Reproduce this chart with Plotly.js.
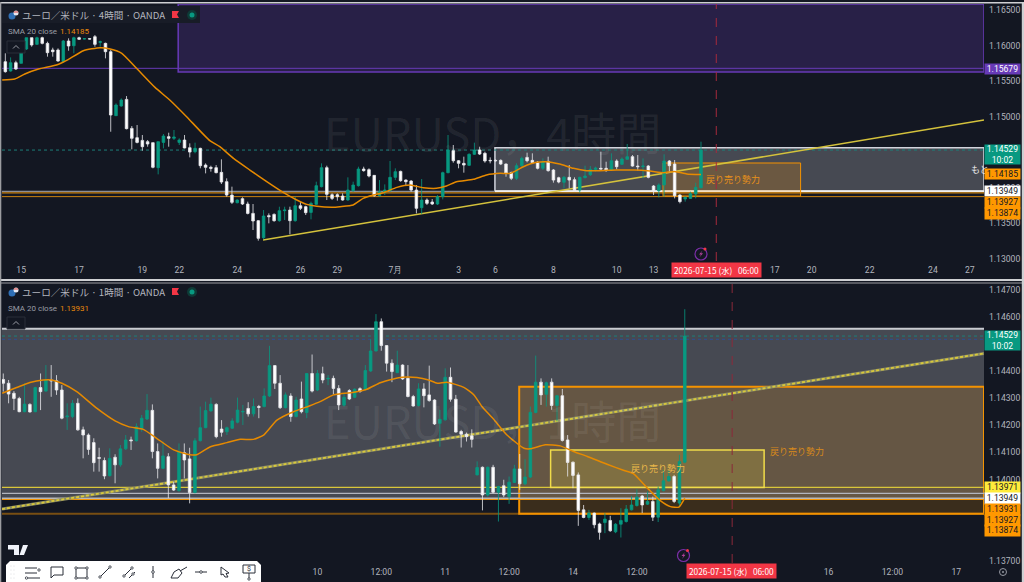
<!DOCTYPE html>
<html><head><meta charset="utf-8">
<script src="https://cdn.plot.ly/plotly-3.0.1.min.js"></script>
<style>html,body{margin:0;padding:0;background:#131722;overflow:hidden}#c{width:1024px;height:582px}</style>
</head><body><div id="c"></div>
<script>
// 4-hour bars: open, high, low, close
const bars4h = [
[1.15772,1.15890,1.15618,1.15632],[1.15641,1.15833,1.15632,1.15758],[1.15758,1.15786,1.15655,1.15669],[1.15749,1.16030,1.15749,1.15899],
[1.15951,1.16110,1.15937,1.16110],[1.16110,1.16110,1.15983,1.16007],[1.16016,1.16124,1.16007,1.16110],[1.16110,1.16124,1.16016,1.16030],
[1.16030,1.16054,1.15843,1.15899],[1.15937,1.15969,1.15843,1.15913],[1.15937,1.15960,1.15772,1.15782],[1.15772,1.16077,1.15758,1.16063],
[1.16063,1.16101,1.15927,1.15993],[1.15997,1.16124,1.15890,1.16110],[1.16110,1.16124,1.16077,1.16087],[1.16091,1.16101,1.16087,1.16096],
[1.16096,1.16101,1.16087,1.16091],[1.16124,1.16148,1.15983,1.16016],[1.16044,1.16068,1.15983,1.16054],[1.16030,1.16040,1.15819,1.15913],
[1.15913,1.15937,1.14787,1.15022],[1.15013,1.15186,1.15008,1.15163],[1.15149,1.15256,1.15139,1.15233],[1.15242,1.15289,1.14820,1.14830],
[1.14834,1.14867,1.14539,1.14694],[1.14703,1.14881,1.14623,1.14637],[1.14665,1.14741,1.14520,1.14576],[1.14647,1.14670,1.14576,1.14614],
[1.14633,1.14633,1.14272,1.14286],[1.14281,1.14647,1.14187,1.14647],[1.14637,1.14755,1.14553,1.14726],[1.14717,1.14773,1.14576,1.14694],
[1.14694,1.14811,1.14670,1.14712],[1.14637,1.14694,1.14600,1.14670],[1.14670,1.14741,1.14553,1.14558],[1.14562,1.14623,1.14426,1.14501],
[1.14506,1.14633,1.14483,1.14553],[1.14553,1.14562,1.14272,1.14309],[1.14318,1.14342,1.14201,1.14286],[1.14286,1.14309,1.14225,1.14272],
[1.14281,1.14318,1.14201,1.14211],[1.14215,1.14398,1.14051,1.14079],[1.14084,1.14131,1.13873,1.13896],[1.13896,1.14014,1.13770,1.13793],
[1.13788,1.13835,1.13779,1.13826],[1.13845,1.13864,1.13756,1.13770],[1.13770,1.13803,1.13624,1.13638],[1.13638,1.13770,1.13404,1.13531],
[1.13535,1.13545,1.13254,1.13287],[1.13296,1.13685,1.13272,1.13601],[1.13606,1.13638,1.13498,1.13592],[1.13624,1.13638,1.13521,1.13535],
[1.13535,1.13732,1.13521,1.13676],[1.13676,1.13732,1.13545,1.13685],[1.13685,1.13732,1.13343,1.13535],[1.13535,1.13873,1.13521,1.13746],
[1.13746,1.13803,1.13685,1.13709],[1.13732,1.13746,1.13615,1.13648],[1.13652,1.13803,1.13554,1.13779],[1.13765,1.14084,1.13756,1.14028],
[1.14014,1.14342,1.14004,1.14281],[1.14281,1.14309,1.13826,1.13906],[1.13901,1.13920,1.13826,1.13849],[1.13901,1.13920,1.13817,1.13873],
[1.13882,1.13920,1.13817,1.13826],[1.13826,1.14145,1.13817,1.13967],[1.13957,1.14084,1.13943,1.14037],[1.14028,1.14295,1.14014,1.14262],
[1.14262,1.14295,1.14225,1.14239],[1.14253,1.14272,1.14145,1.14164],[1.14173,1.14178,1.13873,1.13887],[1.13887,1.14107,1.13873,1.13943],
[1.13934,1.14046,1.13896,1.13967],[1.13957,1.14375,1.13943,1.14145],[1.14145,1.14272,1.14107,1.14225],[1.14229,1.14239,1.14084,1.14098],
[1.14107,1.14117,1.14037,1.14084],[1.14093,1.14107,1.13943,1.13967],[1.13967,1.14037,1.13638,1.13709],[1.13718,1.14121,1.13629,1.13826],
[1.13826,1.13849,1.13756,1.13779],[1.13798,1.13840,1.13756,1.13770],[1.13770,1.13896,1.13756,1.13873],[1.13873,1.14225,1.13835,1.14211],
[1.14211,1.14741,1.14201,1.14530],[1.14520,1.14600,1.14351,1.14379],[1.14379,1.14389,1.14272,1.14342],[1.14342,1.14436,1.14211,1.14318],
[1.14314,1.14483,1.14304,1.14469],[1.14469,1.14633,1.14459,1.14530],[1.14530,1.14576,1.14459,1.14473],[1.14483,1.14506,1.14351,1.14375],
[1.14384,1.14426,1.14342,1.14379],[1.14384,1.14398,1.14365,1.14379],[1.14384,1.14398,1.14318,1.14332],[1.14332,1.14342,1.14154,1.14201],
[1.14211,1.14225,1.14107,1.14131],[1.14131,1.14342,1.14107,1.14309],[1.14309,1.14436,1.14295,1.14412],[1.14426,1.14492,1.14356,1.14379],
[1.14384,1.14483,1.14342,1.14351],[1.14356,1.14375,1.14257,1.14272],[1.14272,1.14412,1.14248,1.14365],[1.14370,1.14436,1.14225,1.14239],
[1.14248,1.14262,1.14070,1.14107],[1.14140,1.14154,1.14061,1.14079],[1.14075,1.14164,1.13990,1.14145],[1.14145,1.14318,1.13990,1.14107],
[1.14112,1.14145,1.13943,1.13957],[1.13967,1.14154,1.13929,1.14145],[1.14140,1.14309,1.14131,1.14164],[1.14182,1.14304,1.14164,1.14257],
[1.14257,1.14295,1.14225,1.14276],[1.14272,1.14506,1.14257,1.14262],[1.14272,1.14365,1.14225,1.14239],[1.14248,1.14483,1.14239,1.14379],
[1.14375,1.14398,1.14257,1.14295],[1.14328,1.14426,1.14318,1.14403],[1.14398,1.14614,1.14398,1.14436],[1.14436,1.14459,1.14295,1.14304],
[1.14304,1.14459,1.14239,1.14295],[1.14295,1.14412,1.14131,1.14304],[1.14304,1.14318,1.14131,1.14145],[1.14023,1.14037,1.13896,1.13948],
[1.13957,1.14061,1.13863,1.14037],[1.14037,1.14469,1.13873,1.14375],[1.14375,1.14389,1.14211,1.14309],[1.14332,1.14389,1.13849,1.13887],
[1.13896,1.13906,1.13779,1.13803],[1.13840,1.13873,1.13803,1.13864],[1.13849,1.13943,1.13840,1.13915],[1.13910,1.14070,1.13849,1.14004],
[1.13999,1.14647,1.13990,1.14529]
];
// 1-hour bars: open, high, low, close
const bars1h = [
[1.14369,1.14391,1.14324,1.14355],[1.14355,1.14367,1.14281,1.14315],[1.14318,1.14326,1.14256,1.14299],[1.14299,1.14305,1.14248,1.14250],
[1.14250,1.14355,1.14248,1.14278],[1.14277,1.14281,1.14247,1.14249],[1.14250,1.14342,1.14248,1.14339],[1.14339,1.14391,1.14256,1.14324],
[1.14326,1.14422,1.14324,1.14367],[1.14367,1.14422,1.14305,1.14364],[1.14364,1.14385,1.14312,1.14330],[1.14330,1.14348,1.14222,1.14226],
[1.14231,1.14281,1.14183,1.14234],[1.14232,1.14293,1.14226,1.14281],[1.14281,1.14299,1.14180,1.14183],[1.14183,1.14195,1.14078,1.14164],
[1.14164,1.14170,1.14091,1.14111],[1.14136,1.14152,1.14029,1.14062],[1.14081,1.14117,1.14029,1.14078],[1.14070,1.14081,1.14001,1.14013],
[1.14014,1.14115,1.14011,1.14078],[1.14082,1.14093,1.13986,1.14054],[1.14054,1.14127,1.14047,1.14113],[1.14113,1.14164,1.14109,1.14146],
[1.14146,1.14158,1.14109,1.14143],[1.14143,1.14207,1.14140,1.14195],[1.14189,1.14238,1.14176,1.14226],[1.14223,1.14315,1.14219,1.14255],
[1.14255,1.14277,1.14078,1.14103],[1.14103,1.14133,1.14004,1.14041],[1.14041,1.14140,1.14038,1.14087],[1.14084,1.14097,1.13931,1.13980],
[1.13980,1.13992,1.13958,1.13961],[1.13959,1.14133,1.13955,1.14103],[1.14099,1.14133,1.14004,1.14072],[1.14076,1.14117,1.13912,1.13952],
[1.13952,1.14152,1.13949,1.14143],[1.14143,1.14269,1.14140,1.14191],[1.14191,1.14287,1.14189,1.14254],[1.14253,1.14302,1.14250,1.14278],
[1.14277,1.14281,1.14152,1.14158],[1.14186,1.14219,1.14158,1.14174],[1.14176,1.14195,1.14164,1.14191],[1.14189,1.14226,1.14186,1.14216],
[1.14211,1.14302,1.14207,1.14256],[1.14249,1.14275,1.14201,1.14251],[1.14262,1.14285,1.14232,1.14242],[1.14242,1.14299,1.14232,1.14269],
[1.14269,1.14275,1.14226,1.14266],[1.14269,1.14336,1.14266,1.14308],[1.14308,1.14493,1.14304,1.14420],[1.14420,1.14422,1.14334,1.14355],
[1.14355,1.14385,1.14260,1.14265],[1.14265,1.14321,1.14262,1.14312],[1.14308,1.14318,1.14213,1.14232],[1.14232,1.14305,1.14229,1.14293],
[1.14297,1.14361,1.14244,1.14250],[1.14247,1.14391,1.14226,1.14391],[1.14391,1.14461,1.14321,1.14326],[1.14330,1.14404,1.14326,1.14391],
[1.14390,1.14416,1.14355,1.14367],[1.14371,1.14385,1.14348,1.14373],[1.14373,1.14383,1.14314,1.14336],[1.14336,1.14348,1.14256,1.14275],
[1.14274,1.14318,1.14269,1.14303],[1.14328,1.14333,1.14293,1.14297],[1.14303,1.14336,1.14300,1.14333],[1.14335,1.14340,1.14320,1.14325],
[1.14333,1.14422,1.14328,1.14402],[1.14400,1.14517,1.14397,1.14474],[1.14474,1.14610,1.14472,1.14582],[1.14582,1.14594,1.14475,1.14494],
[1.14494,1.14496,1.14398,1.14429],[1.14429,1.14443,1.14359,1.14398],[1.14394,1.14475,1.14392,1.14422],[1.14422,1.14425,1.14367,1.14371],
[1.14373,1.14422,1.14303,1.14306],[1.14306,1.14312,1.14269,1.14271],[1.14273,1.14355,1.14269,1.14334],[1.14334,1.14355,1.14266,1.14309],
[1.14312,1.14420,1.14287,1.14291],[1.14293,1.14296,1.14201,1.14205],[1.14207,1.14257,1.14121,1.14222],[1.14220,1.14410,1.14217,1.14377],
[1.14377,1.14413,1.14287,1.14296],[1.14296,1.14312,1.14173,1.14175],[1.14177,1.14183,1.14118,1.14167],[1.14167,1.14173,1.14140,1.14158],
[1.14161,1.14185,1.14118,1.14148],[1.14017,1.14067,1.14015,1.14044],[1.14045,1.14048,1.13886,1.13943],[1.13943,1.14048,1.13937,1.14045],
[1.14045,1.14054,1.13949,1.13953],[1.13953,1.13977,1.13845,1.13974],[1.13977,1.13999,1.13935,1.13943],[1.13937,1.14011,1.13910,1.13990],
[1.13989,1.14054,1.13987,1.14039],[1.14039,1.14094,1.13962,1.13984],[1.13984,1.14075,1.13979,1.14009],[1.14009,1.14269,1.14005,1.14248],
[1.14247,1.14457,1.14244,1.14359],[1.14359,1.14373,1.14275,1.14312],[1.14314,1.14361,1.14269,1.14357],[1.14359,1.14373,1.14257,1.14273],
[1.14273,1.14312,1.14214,1.14309],[1.14309,1.14334,1.14140,1.14144],[1.14146,1.14164,1.14011,1.14063],[1.14064,1.14066,1.13968,1.14015],
[1.14017,1.14026,1.13829,1.13886],[1.13888,1.13906,1.13857,1.13860],[1.13860,1.13888,1.13851,1.13876],[1.13876,1.13878,1.13820,1.13833],
[1.13836,1.13841,1.13778,1.13805],[1.13841,1.13876,1.13802,1.13854],[1.13849,1.13866,1.13807,1.13811],[1.13807,1.13839,1.13802,1.13835],
[1.13835,1.13894,1.13786,1.13849],[1.13845,1.13906,1.13841,1.13891],[1.13888,1.13939,1.13886,1.13906],[1.13904,1.13964,1.13900,1.13935],
[1.13939,1.13943,1.13876,1.13906],[1.13909,1.13956,1.13906,1.13919],[1.13919,1.13937,1.13847,1.13861],[1.13861,1.13974,1.13843,1.13962],
[1.13959,1.14035,1.13956,1.13995],[1.13995,1.14033,1.13992,1.14011],[1.14011,1.14017,1.13913,1.13919],[1.13913,1.14091,1.13898,1.14066],
[1.14064,1.14628,1.14060,1.14529]
];
const smaIdx4h = [-0.6,1.8,3.7,6.3,9.7,12,14.8,18,19.9,22.1,24.9,28.4,31.2,34.4,38.8,40.7,43.3,46.4,49.6,52.8,55.3,57.2,59.1,62.2,63.5,66,67.9,69.8,71.7,74.3,76.8,79.3,81.8,83.7,85.6,88.8,91.3,93.9,95.8,98.3,100.8,102.7,105.2,107.8,110.3,112.8,116,119.2,122.3,124.9,127,129.3,132];
const smaVal4h = [1.15514,1.15528,1.15599,1.15669,1.15725,1.15805,1.15927,1.15969,1.15951,1.15890,1.15679,1.15411,1.15233,1.14998,1.14661,1.14576,1.14412,1.14248,1.14084,1.13929,1.13826,1.13765,1.13737,1.13723,1.13732,1.13756,1.13849,1.13896,1.13929,1.14004,1.14037,1.13999,1.13990,1.14023,1.14084,1.14117,1.14178,1.14201,1.14201,1.14295,1.14356,1.14365,1.14332,1.14272,1.14239,1.14239,1.14248,1.14248,1.14234,1.14211,1.14229,1.14192,1.14185];
const smaIdx1h = [-0.2,2.5,5,7.5,9.1,11,13.8,17.6,21,23.5,26.3,28.8,32,35.1,36.3,38.9,42,44.5,47,48.9,51.4,54.5,57.6,59.5,62,63.3,65.8,68.3,70.8,73.3,74.9,77.7,79.9,81.5,83.3,86.5,88.4,89.9,92.1,94.6,97.8,99,101.8,104.6,107.1,109.7,113.4,116.6,118.4,121,123.4,125.3,126.9,128];
const smaVal1h = [1.14318,1.14339,1.14358,1.14367,1.14367,1.14355,1.14324,1.14262,1.14216,1.14195,1.14185,1.14152,1.14109,1.14091,1.14091,1.14121,1.14136,1.14148,1.14148,1.14164,1.14219,1.14250,1.14272,1.14287,1.14312,1.14316,1.14322,1.14333,1.14357,1.14371,1.14377,1.14376,1.14367,1.14355,1.14359,1.14340,1.14312,1.14269,1.14222,1.14164,1.14115,1.14113,1.14128,1.14124,1.14103,1.14085,1.14056,1.14033,1.14021,1.13968,1.13922,1.13900,1.13898,1.13931];

const tickPrices4h = [1.165,1.16,1.155,1.15,1.14,1.135,1.13];
const tickPrices1h = [1.147,1.146,1.144,1.143,1.142,1.141,1.14,1.137];
const dayTicks4h = [3,14,26,33,44,56,63,74,86,93,104,116,123,146,153,164,176,183];
const dayLabels4h = ['15','17','19','22','24','26','29','7月','3','6','8','10','13','17','20','22','24','27'];
const dayTicks1h = [59,71,83,95,107,119,155,167,179];
const dayLabels1h = ['10','12:00','11','12:00','14','12:00','16','12:00','17'];
const lastClose = 1.14529, level1 = 1.13949, level2 = 1.13927, level3 = 1.13874, level4 = 1.13971, level5 = 1.13931, purpleLevel = 1.15679;

const BG='#131722', GREEN='#089981', ORANGE='#f59300', PURPLE='#673ab7', YEL='#ffeb3b', GRAY='#b2b5be';
const FW='Roboto, "Liberation Sans", sans-serif', FJ='"Noto Sans CJK JP", sans-serif';
const PL=2, PR=984, H=582, PW=PR-PL;
const fx=x=>(x-PL)/PW, fy=y=>1-y/H;
const shapes=[], notes=[];

// helpers in page pixels, for chrome only
function pxRect(x0,y0,x1,y1,fill,lc,lw){shapes.push({type:'rect',xref:'paper',yref:'paper',x0:fx(x0),x1:fx(x1),y0:fy(y1),y1:fy(y0),fillcolor:fill||'rgba(0,0,0,0)',line:{color:lc||'rgba(0,0,0,0)',width:lw||0},layer:'above'});}
function pxPath(pts,color,w,fill,close){const d=pts.map((p,i)=>(i?'L':'M')+fx(p[0])+','+fy(p[1])).join(' ')+(close?' Z':'');shapes.push({type:'path',xref:'paper',yref:'paper',path:d,line:{color:color||'rgba(0,0,0,0)',width:w==null?1:w},fillcolor:fill||'rgba(0,0,0,0)',layer:'above'});}
function pxCirc(x,y,r,fill,lc,lw){shapes.push({type:'circle',xref:'paper',yref:'paper',x0:fx(x-r),x1:fx(x+r),y0:fy(y+r),y1:fy(y-r),fillcolor:fill||'rgba(0,0,0,0)',line:{color:lc||'rgba(0,0,0,0)',width:lw||0},layer:'above'});}
function txt(t,x,y,size,color,o){notes.push(Object.assign({text:t,xref:'paper',yref:'paper',x:fx(x),y:fy(y),showarrow:false,xanchor:'left',yanchor:'middle',font:{size:size,color:color,family:FW},borderpad:0},o||{}));}
function tag(t,y,h,bg,color){txt(t,984,y,8.6,color,{bgcolor:bg,width:35,height:h,align:'center',font:{size:8.6,color:color,family:FW}});}

// data-space shapes
function zone(xa,ya,x0,x1,y0,y1,fill,lc,lw,layer){shapes.push({type:'rect',xref:xa,yref:ya,x0:x0,x1:x1,y0:y0,y1:y1,fillcolor:fill,line:{color:lc,width:lw},layer:layer||'below'});}
function level(xa,ya,x0,x1,y,c,w,dash){shapes.push({type:'line',xref:xa,yref:ya,x0:x0,x1:x1,y0:y,y1:y,line:{color:c,width:w,dash:dash||'solid'},layer:'below'});}
function seg(xa,ya,x0,x1,y0,y1,c,w,dash){shapes.push({type:'line',xref:xa,yref:ya,x0:x0,x1:x1,y0:y0,y1:y1,line:{color:c,width:w,dash:dash||'solid'},layer:'below'});}

const XR1=[-0.632,185.7], YR1=[1.12968,1.16584], XR2=[-0.24,184.2], YR2=[1.13692,1.14721];
// --- 4h panel
zone('x','y',32.8,XR1[1],1.15627,YR1[1],'rgba(103,58,183,0.25)',PURPLE,1.5);
level('x','y',XR1[0],XR1[1],purpleLevel,PURPLE,1);
zone('x','y',92.9,XR1[1],level1,1.14562,'rgba(255,255,255,0.22)','#d1d4dc',1.5);
level('x','y',XR1[0],XR1[1],lastClose,'#1d7f78',1,'dot');
level('x','y',XR1[0],XR1[1],level1,'#8b8e97',1.2);
level('x','y',92.9,XR1[1],level1,'#f0f0f0',2);
level('x','y',XR1[0],XR1[1],level2,'#c9820f',1.2);
level('x','y',XR1[0],XR1[1],level3,'#c9820f',1);
zone('x','y',124.8,150.9,1.13882,1.14347,'rgba(255,152,0,0.2)',ORANGE,1);
seg('x','y',48.9,XR1[1],1.13263,1.14952,'#d4c23c',1.5);
seg('x','y',134.9,134.9,YR1[0],YR1[1],'#a62a3c',1,'dash');
// --- 1h panel
zone('x2','y2',XR2[0],XR2[1],level5,1.14556,'rgba(255,255,255,0.22)','rgba(0,0,0,0)',0);
level('x2','y2',XR2[0],XR2[1],1.14556,'#c9cbd1',2);
level('x2','y2',XR2[0],XR2[1],lastClose,'#1d7f78',1,'dot');
level('x2','y2',XR2[0],XR2[1],1.14517,'#2f4f90',1,'dot');
zone('x2','y2',96.9,XR2[1],level3,1.14342,'rgba(255,152,0,0.17)',ORANGE,2);
level('x2','y2',XR2[0],XR2[1],level3,'rgba(245,147,0,0.45)',2);
level('x2','y2',XR2[0],XR2[1],level2,ORANGE,1.5);
level('x2','y2',XR2[0],XR2[1],level5,'#b8b8b8',1.5);
level('x2','y2',XR2[0],XR2[1],level1,'#b2b5be',1.2);
level('x2','y2',XR2[0],XR2[1],level4,'#d9c63a',1.2);
zone('x2','y2',102.8,142.9,1.13970,1.14109,'rgba(255,235,59,0.17)','#f0dc4a',1.5);
seg('x2','y2',XR2[0],XR2[1],1.13891,1.14465,'#8a8a62',3);
seg('x2','y2',XR2[0],XR2[1],1.13891,1.14465,'#d9c93a',1.8,'3px,2px');
seg('x2','y2',136.9,136.9,YR2[0],YR2[1],'#8a2a3a',1,'dash');

// watermark
txt('EURUSD，4時間',323,132,45,'rgba(255,255,255,0.07)',{font:{size:45,color:'rgba(255,255,255,0.07)',family:FJ}});
txt('EURUSD，1時間',323,419,45,'rgba(255,255,255,0.07)',{font:{size:45,color:'rgba(255,255,255,0.07)',family:FJ}});
// zone labels
txt('戻り売り勢力',705,179,9,'#e8911a',{font:{size:9,color:'#e8911a',family:FJ}});
txt('戻り売り勢力',630,468,9,'#eab84a',{font:{size:9,color:'#eab84a',family:FJ}});
txt('戻り売り勢力',769,451,9,'#d98a1a',{font:{size:9,color:'#d98a1a',family:FJ}});
txt('もと',970,169,9,'#e8e8e8',{font:{size:9,color:'#e8e8e8',family:FJ}});

// chart legends
function legend(yc,tf,val,ysma,ybtn){
  if(tf==='4') pxRect(2,6,200,23,'#181c27');
  pxCirc(12,yc+1,3.5,'#2f6fb5'); pxCirc(16,yc-2,2.5,'#e8e8f0');
  pxPath([[14,yc-3],[18,yc-3]],'#d8413f',1);
  txt('ユーロ／米ドル · '+tf+'時間 · OANDA',21,yc,9.6,GRAY,{font:{size:9.6,color:GRAY,family:FJ}});
  pxPath([[172,yc-4],[179,yc-4],[177,yc-0.5],[179,yc+3],[172,yc+3]],null,0,'#f23645',true);
  pxCirc(192,yc,5,'#0e3a36'); pxCirc(192,yc,2.5,'#089981');
  txt('SMA 20 close',7,ysma,8,'#9a9da6');
  txt(val,59,ysma,8,'#e8890c');
  pxRect(7,ybtn-6,25,ybtn+6,BG,'#2a2e39',1);
  pxPath([[13,ybtn+1.5],[16,ybtn-1.5],[19,ybtn+1.5]],'#9a9da6',1);
}
legend(15,'4','1.14185',31,47);
legend(292,'1','1.13931',308,323);

// price tags 4h
tag('1.15679',68.5,10,PURPLE,'#ffffff');
tag('1.14529<br>10:02',154.5,19,GREEN,'#ffffff');
tag('1.14185',174,10,'#ff9800','#131722');
tag('1.13949',191,10,'#ffffff','#131722');
tag('1.13927',202,10.5,'#ff9800','#131722');
tag('1.13874',213,10.5,'#ff9800','#131722');
// price tags 1h
tag('1.14529<br>10:02',340.5,19,GREEN,'#ffffff');
tag('1.13971',487.5,10.5,YEL,'#131722');
tag('1.13949',498.3,10.5,'#ffffff','#131722');
tag('1.13931',509.5,10.7,'#ff9800','#131722');
tag('1.13927',520,10.7,'#ff9800','#131722');
tag('1.13874',530.7,10.7,'#ff9800','#131722');

// crosshair time tags
function timeTag(x0,x1,yc){txt('2026-07-15 (水)&nbsp;&nbsp;&nbsp;06:00',(x0+x1)/2,yc,8.3,'#ffffff',{xanchor:'center',bgcolor:'#f23645',width:x1-x0,height:14,align:'center',font:{size:8.3,color:'#ffffff',family:FJ}});}
timeTag(672,761,270);
timeTag(687,776,571);
// lightning markers
function bolt(x,y){pxCirc(x,y,6,'rgba(0,0,0,0)','#7b2fa8',1.2);pxPath([[x+1.5,y-3.5],[x-2,y+0.5],[x,y+0.5],[x-1.5,y+3.5],[x+2,y-0.8],[x,y-0.8]],null,0,'#b0409a',true);pxCirc(x+4,y-5,1.5,'#f23645');}
bolt(701,254); bolt(683.5,555.5);

// frame
pxRect(0,2,1024,3.5,'#cfd0d3');
pxRect(0,279,1024,281,'#cfd0d3');
pxRect(0,282.5,1024,283.5,'#9b9ca0');
pxRect(0,2,1.3,582,'#9b9ca0');
pxRect(1021.8,2,1024,582,'#cfd0d3');
pxCirc(1003,572,3.5,'rgba(0,0,0,0)','#9598a1',1);pxCirc(1003,572,1,'#9598a1');

// TV logo
pxPath([[8,545],[19,545],[19,555],[14,555],[14,549.5],[8,549.5]],null,0,'#f0f3fa',true);
pxPath([[19.5,555],[23,545],[28,545],[24,555]],null,0,'#f0f3fa',true);

// toolbar
pxPath([[6,582],[6,565],[10,561],[257,561],[261,565],[261,582]],null,0,'#ffffff',true);
const IC='#2a2e39';
[566,570,574,578].forEach(y=>{pxCirc(11,y,0.4,'#b0b3bc');pxCirc(14,y,0.4,'#b0b3bc');});
pxPath([[25,568],[37,568]],IC,1);pxPath([[25,573],[37,573]],IC,1);pxPath([[28,578],[40,578]],IC,1);
pxCirc(39,570,1.2,'#fff',IC,0.8);pxCirc(26.5,578,1.2,'#fff',IC,0.8);
pxPath([[51,567],[63,567],[63,575],[54,575],[51,578],[51,567]],IC,1);
pxRect(76,568,87,578,'rgba(0,0,0,0)',IC,1);
[[76,568],[87,568],[76,578],[87,578]].forEach(p=>pxCirc(p[0],p[1],1.2,'#fff',IC,0.8));
pxPath([[100,577],[110,567]],IC,1);pxCirc(100,577,1.2,'#fff',IC,0.8);pxCirc(110,567,1.2,'#fff',IC,0.8);
pxPath([[124,576],[132,568]],IC,1);pxPath([[129,578],[135,572]],IC,1);pxCirc(132,568,1.2,'#fff',IC,0.8);pxCirc(124,576,1.2,'#fff',IC,0.8);pxCirc(133,574,1.2,'#fff',IC,0.8);
pxPath([[153,566],[153,578]],IC,1);pxCirc(153,572,1.3,'#fff',IC,0.8);
pxPath([[171,578],[174,572],[179,569],[182,573],[178,578],[171,578]],IC,1);pxPath([[180,571],[187,567]],IC,1);
pxPath([[195,572],[207,572]],IC,1);pxCirc(201,572,1.3,'#fff',IC,0.8);
pxPath([[221,567],[229,573],[226,573.5],[228,577],[225,577],[223,574],[221,575],[221,567]],IC,1);
pxRect(243,565,255,573,'rgba(0,0,0,0)',IC,1);pxPath([[249,573],[249,579]],IC,1);pxCirc(249,579,1.2,'#fff',IC,0.8);
txt('$',249,569,7,IC,{xanchor:'center',font:{size:7,color:IC,family:FW}});

const col=(r,i)=>r.map(b=>b[i]);
const candle=(bars,xa,ya)=>({type:'candlestick',x:bars.map((_,i)=>i),open:col(bars,0),high:col(bars,1),low:col(bars,2),close:col(bars,3),xaxis:xa,yaxis:ya,width:0.55,
  increasing:{line:{color:GREEN,width:0.8},fillcolor:GREEN},decreasing:{line:{color:'#e8e9ec',width:0.8},fillcolor:'#ffffff'},hoverinfo:'skip',showlegend:false});
const sma=(x,y,xa,ya)=>({type:'scatter',mode:'lines',x:x,y:y,xaxis:xa,yaxis:ya,line:{color:'#e68a00',width:1.5,shape:'spline',smoothing:0.5},hoverinfo:'skip',showlegend:false});
const yAxis=(range,dom,vals,anchor)=>({domain:dom,range:range,side:'right',anchor:anchor,tickmode:'array',tickvals:vals,ticktext:vals.map(v=>v.toFixed(5)),tickfont:{size:8.6,color:GRAY,family:FW},ticklen:0,showgrid:false,zeroline:false,showline:false,ticklabelstandoff:4});
const xAxis=(range,vals,labs,anchor)=>({domain:[0,1],range:range,anchor:anchor,tickmode:'array',tickvals:vals,ticktext:labs,tickfont:{size:8.6,color:GRAY,family:FW},ticklen:0,showgrid:false,zeroline:false,showline:false,rangeslider:{visible:false},ticklabelstandoff:2});

Plotly.newPlot('c',[candle(bars4h,'x','y'),sma(smaIdx4h,smaVal4h,'x','y'),candle(bars1h,'x2','y2'),sma(smaIdx1h,smaVal1h,'x2','y2')],{
  width:1024,height:582,margin:{l:PL,r:1024-PR,t:0,b:0,pad:0},paper_bgcolor:BG,plot_bgcolor:BG,showlegend:false,dragmode:false,
  xaxis:xAxis(XR1,dayTicks4h,dayLabels4h,'y'),
  yaxis:yAxis(YR1,[1-261/H,1-4/H],tickPrices4h,'x'),
  xaxis2:xAxis(XR2,dayTicks1h,dayLabels1h,'y2'),
  yaxis2:yAxis(YR2,[1-563/H,1-284/H],tickPrices1h,'x2'),
  shapes:shapes,annotations:notes
},{displayModeBar:false,staticPlot:true});
</script></body></html>
